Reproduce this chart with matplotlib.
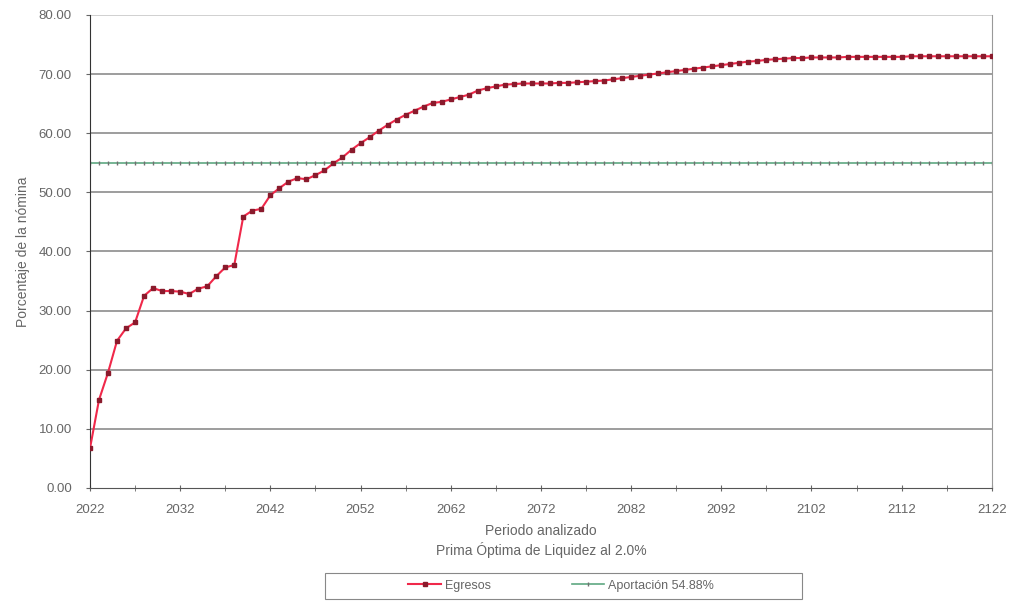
import numpy as np
import matplotlib.pyplot as plt
from matplotlib.patches import Rectangle

plt.rcParams['font.family'] = ['Liberation Sans', 'DejaVu Sans']

# Years analysed, one point per year
years = np.arange(2022, 2123)

# Series "Egresos" (% of payroll)
egresos = [
    6.7, 14.9, 19.5, 24.9, 27.0, 28.0, 32.5, 33.8, 33.3, 33.3,   # 2022-2031
    33.2, 32.8, 33.7, 34.1, 35.8, 37.3, 37.7, 45.9, 46.9, 47.2,  # 2032-2041
    49.5, 50.7, 51.8, 52.4, 52.2, 52.9, 53.7, 54.9, 55.9, 57.2,  # 2042-2051
    58.3, 59.3, 60.4, 61.4, 62.3, 63.1, 63.8, 64.5, 65.1, 65.3,  # 2052-2061
    65.7, 66.1, 66.5, 67.2, 67.6, 67.9, 68.2, 68.3, 68.4, 68.4,  # 2062-2071
    68.4, 68.4, 68.5, 68.5, 68.6, 68.7, 68.8, 68.9, 69.1, 69.3,  # 2072-2081
    69.5, 69.7, 69.9, 70.1, 70.3, 70.5, 70.7, 70.9, 71.1, 71.3,  # 2082-2091
    71.5, 71.7, 71.9, 72.1, 72.2, 72.4, 72.5, 72.6, 72.7, 72.7,  # 2092-2101
    72.8, 72.8, 72.8, 72.8, 72.9, 72.9, 72.9, 72.9, 72.9, 72.9,  # 2102-2111
    72.9, 73.0, 73.0, 73.0, 73.0, 73.0, 73.0, 73.0, 73.0, 73.0,  # 2112-2121
    73.0,                                                        # 2122
]

aportacion = 54.88
x_labels = np.arange(2022, 2123, 10)
y_ticks = np.arange(0, 81, 10)

fig = plt.figure(figsize=(10.11, 6.05), dpi=100)
ax = fig.add_axes([0.089, 0.1934, 0.892, 0.782])

# Horizontal grid
for v in y_ticks[1:]:
    ax.axhline(v, color='#8c8c8c' if v < 80 else '#c8c8c8', lw=1.2, zorder=1)

# Contribution line
ax.plot(years, np.full(len(years), aportacion), color='#5fa882', lw=1.2,
        marker='|', ms=3, mec='#707070', mew=1.0, zorder=2,
        label='Aportación 54.88%')

# Expenditure series
ax.plot(years, egresos, color='#f0284a', lw=1.5, marker='s', ms=3,
        mfc='#8a1a2c', mec='#8a1a2c', zorder=3, label='Egresos')

ax.set_xlim(2022, 2122)
ax.set_ylim(0, 80)
ax.set_yticks(y_ticks)
ax.set_yticklabels([f'{v:.2f}' for v in y_ticks])
ax.set_xticks(x_labels)
ax.set_xticks(np.arange(2027, 2123, 10), minor=True)
ax.tick_params(axis='y', labelsize=9.5, colors='#666666', length=3,
               direction='out', pad=10)
ax.tick_params(axis='x', which='both', labelsize=9.5, colors='#666666',
               length=5, direction='inout', pad=9)

ax.spines['top'].set_visible(False)
ax.spines['left'].set_color('#333333')
ax.spines['bottom'].set_color('#555555')
ax.spines['right'].set_color('#999999')

ax.set_xlabel('Periodo analizado\nPrima Óptima de Liquidez al 2.0%',
              fontsize=10, color='#666666', labelpad=6, linespacing=1.3)
ax.set_ylabel('Porcentaje de la nómina', fontsize=10, color='#666666', labelpad=6)

# Legend frame drawn as a wide box below the chart
fig.add_artist(Rectangle((325 / 1011, 6 / 605), 477 / 1011, 26 / 605,
                         transform=fig.transFigure, fill=False,
                         edgecolor='#888888', lw=0.8))
h, l = ax.get_legend_handles_labels()
leg = fig.legend(h[::-1], l[::-1], loc='center', bbox_to_anchor=(0.555, 0.032),
                 ncol=2, fontsize=9, frameon=False, columnspacing=6.5,
                 handlelength=2.6, handletextpad=0.3)
for t in leg.get_texts():
    t.set_color('#666666')

plt.savefig('out.png', dpi=100)
